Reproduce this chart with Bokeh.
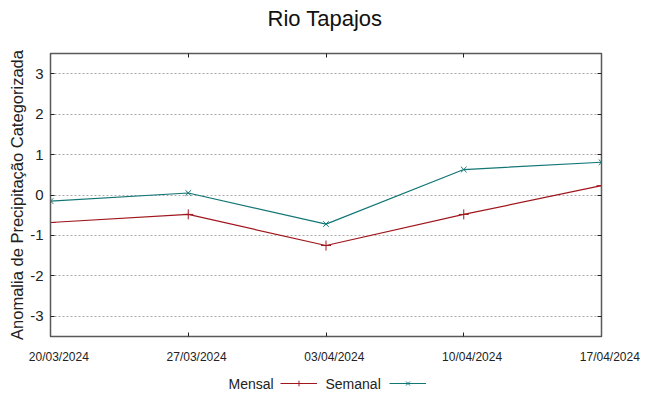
import pandas as pd
from bokeh.plotting import figure
from bokeh.layouts import column
from bokeh.models import (FixedTicker, LinearAxis, DatetimeAxis, Range1d, ColumnDataSource,
                          Label, Legend, LegendItem, CustomJSTickFormatter)
from bokeh.embed import file_html
from bokeh.resources import INLINE

# ---- data ----
dates = ["20/03/2024", "27/03/2024", "03/04/2024", "10/04/2024", "17/04/2024"]
mensal = [-0.68, -0.48, -1.25, -0.48, 0.23]
semanal = [-0.15, 0.05, -0.72, 0.63, 0.81]
y_ticks = [-3, -2, -1, 0, 1, 2, 3]
title_text = "Rio Tapajos"
y_label = "Anomalia de Precipitação Categorizada"
series_names = ["Mensal", "Semanal"]

FONT = "Liberation Sans"
RED = "#a0161c"
TEAL = "#137676"
FRAME = "#5a5a5a"
TXT = "#222222"

x = pd.to_datetime(dates, format="%d/%m/%Y")
x_ms = [float(v) for v in (x.astype("int64") // 10**6)]

W = 649
BL, BR = 50, 48
TH, MH, LH = 40, 328, 28   # title strip, main plot, legend strip heights


def strip(h):
    # decoration strip whose frame is aligned with the main frame: x data units = page pixels
    f = figure(width=W, height=h, output_backend="svg", toolbar_location=None,
               x_range=Range1d(BL, W - BR), y_range=Range1d(0, h),
               x_axis_location=None, y_axis_location=None,
               min_border_left=BL, min_border_right=BR, min_border_top=0, min_border_bottom=0)
    f.grid.visible = False
    f.outline_line_color = None
    return f


# ---- title strip ----
top = strip(TH)
top.add_layout(Label(x=(BL + W - BR) / 2 - 1, y=22.3, text=title_text, text_align="center",
                     text_baseline="alphabetic", text_font=FONT, text_font_size="22px",
                     text_color="#111111"))

# ---- main plot ----
p = figure(width=W, height=MH, output_backend="svg", toolbar_location=None, title=None,
           x_axis_type="datetime",
           x_range=Range1d(x_ms[0], x_ms[-1]), y_range=Range1d(-3.5, 3.5),
           min_border_left=BL, min_border_right=BR, min_border_top=13, min_border_bottom=32)

p.outline_line_color = FRAME
p.outline_line_width = 1.5

empty_fmt = CustomJSTickFormatter(code="return ''")
pad = "\u00a0" * 5
x_fmt = CustomJSTickFormatter(args=dict(tvals=x_ms, labels=dates, pad=pad),
                              code="const i = tvals.indexOf(tick); return i < 0 ? '' : pad + labels[i];")
y_fmt = CustomJSTickFormatter(code="return String(tick)")

# bottom axis
xa = p.xaxis[0]
xa.ticker = FixedTicker(ticks=x_ms)
xa.formatter = x_fmt
xa.major_tick_in = 4
xa.major_tick_out = 0
xa.minor_tick_line_color = None
xa.axis_line_color = FRAME
xa.major_tick_line_color = TXT
xa.major_label_standoff = 13
xa.major_label_text_font = FONT
xa.major_label_text_font_size = "12px"
xa.major_label_text_color = TXT

# left axis
ya = p.yaxis[0]
ya.ticker = FixedTicker(ticks=y_ticks)
ya.formatter = y_fmt
ya.major_tick_in = 4
ya.major_tick_out = 0
ya.minor_tick_line_color = None
ya.axis_line_color = FRAME
ya.major_tick_line_color = TXT
ya.major_label_text_font = FONT
ya.major_label_text_font_size = "15px"
ya.major_label_text_color = TXT
ya.major_label_standoff = 7
ya.axis_label = y_label
ya.axis_label_text_font = FONT
ya.axis_label_text_font_size = "16.5px"
ya.axis_label_text_font_style = "normal"
ya.axis_label_text_color = TXT
ya.axis_label_standoff = 1

# top and right axes (ticks only)
ta = DatetimeAxis(ticker=FixedTicker(ticks=x_ms), formatter=empty_fmt,
                  major_tick_in=4, major_tick_out=0, minor_tick_line_color=None,
                  axis_line_color=FRAME, major_tick_line_color=TXT, major_label_standoff=0)
p.add_layout(ta, "above")
ra = LinearAxis(ticker=FixedTicker(ticks=y_ticks), formatter=empty_fmt,
                major_tick_in=4, major_tick_out=0, minor_tick_line_color=None,
                axis_line_color=FRAME, major_tick_line_color=TXT, major_label_standoff=0)
p.add_layout(ra, "right")

# grid
p.xgrid.visible = False
p.ygrid.ticker = FixedTicker(ticks=y_ticks)
p.ygrid.grid_line_color = "#a8a8a8"
p.ygrid.grid_line_dash = "2 2"
p.ygrid.grid_line_width = 1

# series
src = ColumnDataSource(dict(x=x_ms, m=mensal, s=semanal))
p.line("x", "m", source=src, line_color=RED, line_width=1.2)
p.scatter("x", "m", source=src, marker="cross", size=10, line_color=RED, line_width=1)
p.line("x", "s", source=src, line_color=TEAL, line_width=1.2)
p.scatter("x", "s", source=src, marker="x", size=8, line_color=TEAL, line_width=1)

# ---- legend strip (text then sample, gnuplot style) ----
lg = strip(LH)
for name, xpos in zip(series_names, [228, 325]):
    lg.add_layout(Label(x=xpos, y=13, text=name, text_align="left", text_baseline="middle",
                        text_font=FONT, text_font_size="14px", text_color=TXT))

# legend-only renderers (same series, far outside this strip's visible range)
d1 = lg.line("x", "m", source=src, line_color=RED, line_width=1.2)
d1m = lg.scatter("x", "m", source=src, marker="cross", size=10, line_color=RED, line_width=1)
d2 = lg.line("x", "s", source=src, line_color=TEAL, line_width=1.2)
d2m = lg.scatter("x", "s", source=src, marker="x", size=8, line_color=TEAL, line_width=1)

for rs, xloc in [([d1, d1m], 280), ([d2, d2m], 389)]:
    leg = Legend(items=[LegendItem(label=" ", renderers=rs)], location=(xloc - BL, 6),
                 glyph_width=37, glyph_height=14, label_width=0, label_standoff=0,
                 padding=0, margin=0, border_line_color=None, background_fill_alpha=0,
                 orientation="horizontal")
    lg.add_layout(leg, "center")

layout = column(top, p, lg, spacing=0)
open("out.html", "w").write(file_html(layout, INLINE))
